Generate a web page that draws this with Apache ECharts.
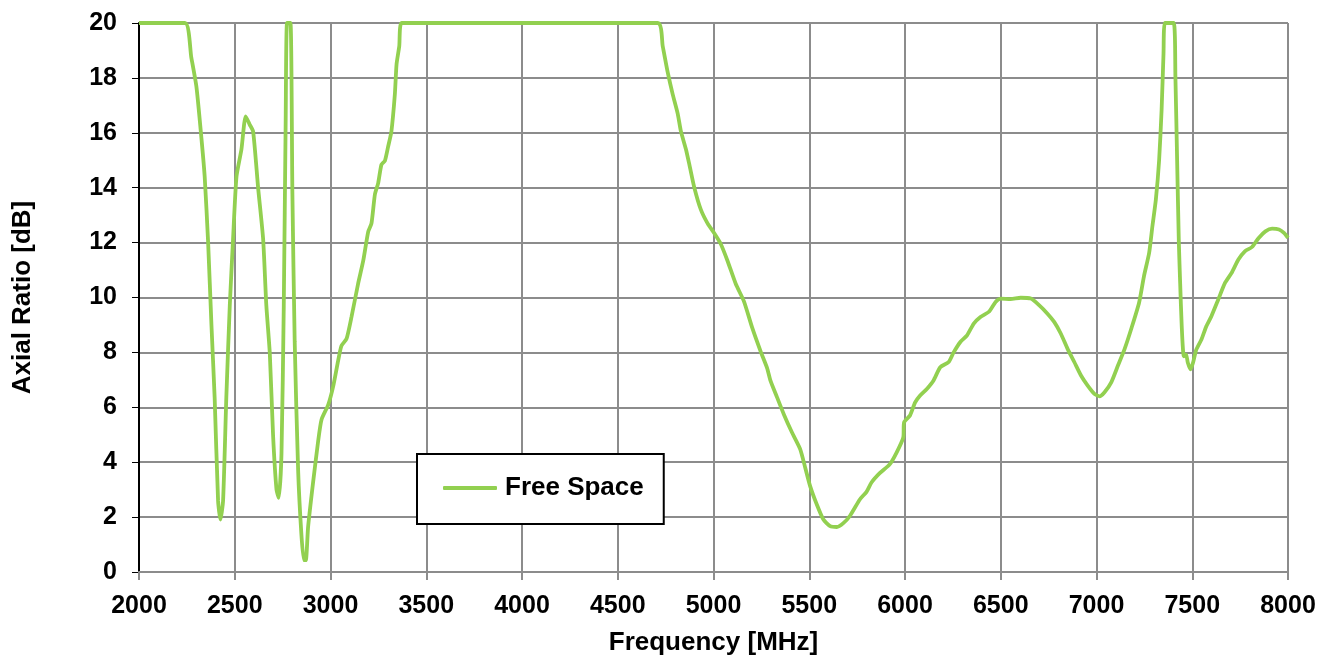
<!DOCTYPE html>
<html>
<head>
<meta charset="utf-8">
<title>Axial Ratio</title>
<script src="https://cdn.jsdelivr.net/npm/echarts@6/dist/echarts.min.js"></script>
<style>
  html, body { margin: 0; padding: 0; background: #fff; }
  #chart { width: 1330px; height: 661px; }
</style>
</head>
<body>
<div id="chart"></div>
<script>
// frequency in MHz
const freqs = [
  2000, 2240, 2273, 2300, 2326, 2343, 2361, 2378, 2395, 2413, 2425, 2439, 2456, 2474, 2491, 2509,
  2535, 2557, 2578, 2596, 2622, 2648, 2665, 2683, 2700, 2718, 2730, 2744, 2756, 2766, 2773, 2791,
  2801, 2813, 2831, 2848, 2861, 2871, 2883, 2909, 2935, 2953, 2988, 3014, 3040, 3057, 3084, 3110,
  3144, 3171, 3197, 3214, 3232, 3249, 3266, 3284, 3301, 3318, 3336, 3345, 3359, 3371, 4709, 4735,
  4761, 4787, 4813, 4830, 4856, 4874, 4900, 4934, 4969, 5003, 5038, 5073, 5116, 5159, 5202, 5246,
  5280, 5298, 5332, 5367, 5410, 5453, 5479, 5505, 5540, 5574, 5609, 5644, 5678, 5713, 5765, 5799,
  5825, 5868, 5921, 5956, 5991, 5995, 6026, 6053, 6079, 6114, 6149, 6184, 6228, 6254, 6289, 6324,
  6359, 6394, 6438, 6473, 6499, 6551, 6604, 6657, 6700, 6744, 6779, 6814, 6849, 6884, 6919, 6954,
  6989, 7016, 7042, 7077, 7112, 7147, 7182, 7222, 7248, 7275, 7292, 7310, 7327, 7340, 7350, 7357,
  7403, 7412, 7421, 7430, 7437, 7445, 7456, 7468, 7477, 7491, 7504, 7521, 7548, 7574, 7600, 7636,
  7671, 7706, 7741, 7776, 7812, 7847, 7882, 7917, 7953, 7979, 8000
];
const axialRatio = [
  20, 20, 18.75, 17.67, 15.8, 14.4, 12.0, 9.05, 6.36, 2.59, 1.91, 2.59, 6.36, 9.7, 12.1, 14.4,
  15.4, 16.6, 16.3, 16.05, 14.0, 12.15, 9.7, 7.97, 5.0, 3.0, 2.7, 4.3, 9.7, 16.5, 20, 20,
  13.8, 8.4, 3.7, 1.37, 0.43, 0.43, 1.64, 3.26, 4.74, 5.55, 6.09, 6.76, 7.7, 8.24, 8.5, 9.3,
  10.5, 11.34, 12.4, 12.7, 13.76, 14.17, 14.84, 14.98, 15.5, 16.05, 17.4, 18.5, 19.15, 20, 20, 19.15,
  18.2, 17.4, 16.7, 16.05, 15.4, 14.84, 14.0, 13.2, 12.7, 12.35, 11.95, 11.34, 10.5, 9.86, 8.9, 8.04,
  7.43, 6.96, 6.36, 5.75, 5.08, 4.47, 3.8, 3.12, 2.45, 1.91, 1.67, 1.64, 1.78, 2.05, 2.65, 2.92,
  3.26, 3.6, 3.93, 4.35, 4.9, 5.45, 5.7, 6.18, 6.43, 6.67, 6.98, 7.46, 7.65, 8.0, 8.38, 8.62,
  9.05, 9.29, 9.48, 9.84, 9.96, 9.94, 9.99, 9.96, 9.72, 9.41, 9.11, 8.68, 8.13, 7.65, 7.16, 6.79,
  6.49, 6.4, 6.55, 6.91, 7.52, 8.13, 8.87, 9.8, 10.78, 11.63, 12.6, 13.57, 15.0, 16.84, 18.9, 20,
  20, 18.06, 15.0, 12.0, 10.5, 8.96, 7.86, 7.92, 7.62, 7.38, 7.62, 8.1, 8.47, 8.96, 9.32, 9.93,
  10.53, 10.9, 11.38, 11.69, 11.84, 12.17, 12.41, 12.51, 12.48, 12.35, 12.17
];

const chart = echarts.init(document.getElementById('chart'));
const font = '"Liberation Sans", Arial, sans-serif';
const green = '#92d050';

chart.setOption({
  animation: false,
  grid: { left: 139, right: 42, top: 23, bottom: 88 },
  legend: {
    data: [{ name: 'Free Space', icon: 'roundRect' }],
    left: 417,
    top: 454,
    backgroundColor: '#fff',
    borderColor: '#000',
    borderWidth: 2,
    borderRadius: 0,
    padding: [21, 20, 23, 26],
    itemWidth: 54,
    itemHeight: 4,
    itemGap: 0,
    itemStyle: { color: green },
    textStyle: { fontFamily: font, fontSize: 26, fontWeight: 'bold', color: '#000', padding: [0, 0, 0, 3] }
  },
  xAxis: {
    type: 'value',
    min: 2000,
    max: 8000,
    interval: 500,
    name: 'Frequency [MHz]',
    nameLocation: 'middle',
    nameGap: 58,
    nameTextStyle: { fontFamily: font, fontSize: 26, fontWeight: 'bold', color: '#000' },
    axisLine: { show: true, lineStyle: { color: '#8c8c8c', width: 2 } },
    axisTick: { show: true, length: 8, lineStyle: { color: '#8c8c8c', width: 2 } },
    axisLabel: {
      fontFamily: font, fontSize: 25, fontWeight: 'bold', color: '#000', margin: 22,
      formatter: v => String(v)
    },
    splitLine: { show: true, lineStyle: { color: '#8c8c8c', width: 2 } }
  },
  yAxis: {
    type: 'value',
    min: 0,
    max: 20,
    interval: 2,
    name: 'Axial Ratio [dB]',
    nameLocation: 'middle',
    nameGap: 103,
    nameTextStyle: { fontFamily: font, fontSize: 26, fontWeight: 'bold', color: '#000' },
    axisLine: { show: true, lineStyle: { color: '#000', width: 2 } },
    axisTick: { show: true, length: 7, lineStyle: { color: '#000', width: 1 } },
    axisLabel: { fontFamily: font, fontSize: 25, fontWeight: 'bold', color: '#000', margin: 22 },
    splitLine: { show: true, lineStyle: { color: '#8c8c8c', width: 2 } }
  },
  series: [{
    name: 'Free Space',
    type: 'line',
    data: freqs.map((f, i) => [f, axialRatio[i]]),
    symbol: 'none',
    smooth: 0.2,
    clip: true,
    lineStyle: { color: green, width: 3.8 },
    itemStyle: { color: green }
  }]
});
</script>
</body>
</html>
